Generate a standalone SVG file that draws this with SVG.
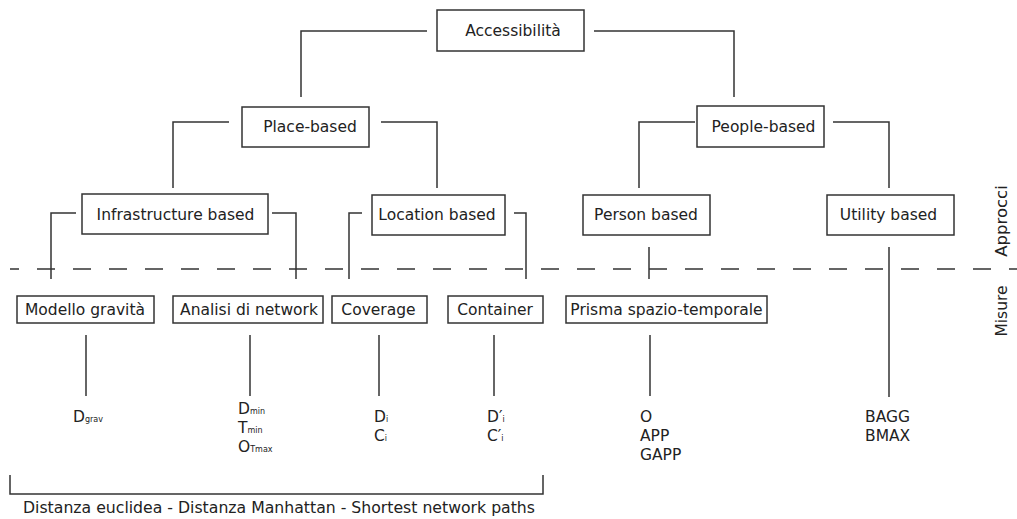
<svg xmlns="http://www.w3.org/2000/svg" width="1017" height="519" viewBox="0 0 1017 519">
<style>
.box{fill:#fff;stroke:#333;stroke-width:1.5}
.lbl{font-family:"DejaVu Sans",Verdana,sans-serif;font-size:15.5px;fill:#222;text-anchor:middle}
.m{font-family:"DejaVu Sans",Verdana,sans-serif;font-size:15.5px;fill:#222}
.sub{font-size:8px}
.side{font-family:"DejaVu Sans",Verdana,sans-serif;font-size:15.5px;fill:#222;text-anchor:middle}
.con{fill:none;stroke:#333;stroke-width:1.5}
</style>
<rect width="1017" height="519" fill="#fff"/>
<g id="connectors">
<polyline class="con" points="427,31 301,31 301,97"/>
<polyline class="con" points="594,31 734,31 734,97"/>
<polyline class="con" points="229,122 173,122 173,188"/>
<polyline class="con" points="381,122 437,122 437,188"/>
<polyline class="con" points="695,122 639,122 639,188"/>
<polyline class="con" points="833,122 889,122 889,188"/>
<polyline class="con" points="76,213 51,213 51,279"/>
<polyline class="con" points="272,213 296,213 296,279"/>
<polyline class="con" points="362,213 349,213 349,279"/>
<polyline class="con" points="514,213 526,213 526,279"/>
<line class="con" x1="649" y1="247" x2="649" y2="279"/>
<line class="con" x1="889" y1="247" x2="889" y2="397"/>
<line class="con" x1="86" y1="335" x2="86" y2="396"/>
<line class="con" x1="250" y1="335" x2="250" y2="396"/>
<line class="con" x1="379" y1="335" x2="379" y2="396"/>
<line class="con" x1="494" y1="335" x2="494" y2="396"/>
<line class="con" x1="650" y1="335" x2="650" y2="396"/>
<polyline class="con" points="10,475 10,494 543,494 543,475"/>
<line class="con" x1="10" y1="269" x2="1017" y2="269" stroke-dasharray="18 18" stroke-dashoffset="9"/>
</g>
<g id="n-accessibilita"><rect class="box" x="437" y="10" width="147" height="41"/><text class="lbl" x="513" y="36">Accessibilità</text></g>
<g id="n-place"><rect class="box" x="242" y="107" width="127" height="40"/><text class="lbl" x="310" y="132">Place-based</text></g>
<g id="n-people"><rect class="box" x="697" y="106" width="127" height="41"/><text class="lbl" x="763.5" y="132">People-based</text></g>
<g id="n-infra"><rect class="box" x="82" y="194" width="186" height="40"/><text class="lbl" x="175.5" y="219.5">Infrastructure based</text></g>
<g id="n-location"><rect class="box" x="372" y="195" width="133" height="40"/><text class="lbl" x="437" y="220">Location based</text></g>
<g id="n-person"><rect class="box" x="583" y="195" width="127" height="40"/><text class="lbl" x="646" y="220">Person based</text></g>
<g id="n-utility"><rect class="box" x="827" y="195" width="127" height="40"/><text class="lbl" x="888.5" y="220">Utility based</text></g>
<g id="n-gravita"><rect class="box" x="17" y="296" width="137" height="27"/><text class="lbl" x="85" y="315">Modello gravità</text></g>
<g id="n-network"><rect class="box" x="173" y="296" width="150" height="27"/><text class="lbl" x="249" y="315">Analisi di network</text></g>
<g id="n-coverage"><rect class="box" x="332" y="296" width="95" height="27"/><text class="lbl" x="378.5" y="315">Coverage</text></g>
<g id="n-container"><rect class="box" x="448" y="296" width="95" height="27"/><text class="lbl" x="495" y="315">Container</text></g>
<g id="n-prisma"><rect class="box" x="566" y="296" width="201" height="27"/><text class="lbl" x="666.5" y="315">Prisma spazio-temporale</text></g>
<g id="m-gravita"><text class="m" x="73" y="422">D<tspan class="sub">grav</tspan></text></g>
<g id="m-network">
<text class="m" x="238" y="414">D<tspan class="sub">min</tspan></text>
<text class="m" x="238" y="433">T<tspan class="sub">min</tspan></text>
<text class="m" x="238" y="452">O<tspan class="sub">Tmax</tspan></text>
</g>
<g id="m-coverage">
<text class="m" x="374" y="422">D<tspan class="sub">i</tspan></text>
<text class="m" x="374" y="441">C<tspan class="sub">i</tspan></text>
</g>
<g id="m-container">
<text class="m" x="487" y="422">D′<tspan class="sub">i</tspan></text>
<text class="m" x="487" y="441">C′<tspan class="sub">i</tspan></text>
</g>
<g id="m-prisma">
<text class="m" x="640" y="422">O</text>
<text class="m" x="640" y="441">APP</text>
<text class="m" x="640" y="460">GAPP</text>
</g>
<g id="m-utility">
<text class="m" x="865" y="422">BAGG</text>
<text class="m" x="865" y="441">BMAX</text>
</g>
<text class="m" x="23" y="513" textLength="512" lengthAdjust="spacingAndGlyphs">Distanza euclidea - Distanza Manhattan - Shortest network paths</text>
<text class="side" transform="translate(1007,221) rotate(-90)" style="font-size:16.5px">Approcci</text>
<text class="side" transform="translate(1007,311) rotate(-90)">Misure</text>
</svg>
